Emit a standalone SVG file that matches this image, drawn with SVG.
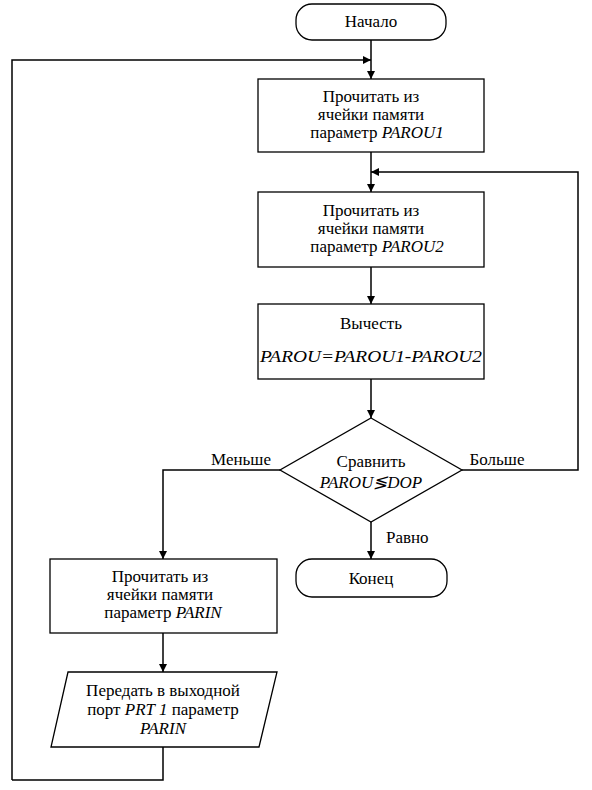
<svg xmlns="http://www.w3.org/2000/svg" width="592" height="790" viewBox="0 0 592 790">
<style>
.s{fill:#fff;stroke:#000;stroke-width:1.3}
.c{fill:none;stroke:#000;stroke-width:1.5}
text{font-family:'Liberation Serif',Tinos,'Times New Roman',Times,serif;font-size:17px;fill:#000;text-anchor:middle}
.i{font-style:italic}
</style>
<defs>
<marker id="a" viewBox="0 0 10 10" refX="10" refY="5" markerWidth="8" markerHeight="8" markerUnits="userSpaceOnUse" orient="auto">
<path d="M0,0 L10,5 L0,10 Z" fill="#000"/>
</marker>
</defs>
<g id="connectors">
<path class="c" d="M371,40 V79" marker-end="url(#a)"/>
<path class="c" d="M12,780 H163 V747 M12,780 V60 H371" marker-end="url(#a)"/>
<path class="c" d="M371,152 V192" marker-end="url(#a)"/>
<path class="c" d="M462,470 H578 V172 H371" marker-end="url(#a)"/>
<path class="c" d="M371,267 V304" marker-end="url(#a)"/>
<path class="c" d="M371,379 V418" marker-end="url(#a)"/>
<path class="c" d="M280,470 H163 V559" marker-end="url(#a)"/>
<path class="c" d="M371,522 V559" marker-end="url(#a)"/>
<path class="c" d="M163,633 V672" marker-end="url(#a)"/>
<text x="241" y="465">Меньше</text>
<text x="497" y="465">Больше</text>
<text x="386" y="543" style="text-anchor:start">Равно</text>
</g>
<g id="start">
<rect class="s" x="296" y="4" width="150" height="36" rx="16"/>
<text x="371" y="27">Начало</text>
</g>
<g id="read1">
<rect class="s" x="258" y="79" width="226" height="73"/>
<text x="371" y="102">Прочитать из</text>
<text x="371" y="120">ячейки памяти</text>
<text x="377" y="138">параметр  <tspan class="i">PAROU1</tspan></text>
</g>
<g id="read2">
<rect class="s" x="258" y="192" width="226" height="75"/>
<text x="371" y="216">Прочитать из</text>
<text x="371" y="234">ячейки памяти</text>
<text x="377" y="252">параметр  <tspan class="i">PAROU2</tspan></text>
</g>
<g id="subtract">
<rect class="s" x="258" y="304" width="226" height="75"/>
<text x="371" y="329">Вычесть</text>
<text x="371" y="362" class="i" textLength="222" lengthAdjust="spacingAndGlyphs">PAROU=PAROU1-PAROU2</text>
</g>
<g id="compare">
<polygon class="s" points="371,418 462,470 371,522 280,470"/>
<text x="371" y="467">Сравнить</text>
<text x="371" y="488" class="i">PAROU≶DOP</text>
</g>
<g id="end">
<rect class="s" x="296" y="559" width="151" height="38" rx="16"/>
<text x="371" y="584">Конец</text>
</g>
<g id="read3">
<rect class="s" x="50" y="559" width="227" height="74"/>
<text x="160" y="582">Прочитать из</text>
<text x="160" y="600">ячейки памяти</text>
<text x="163" y="618">параметр <tspan class="i">PARIN</tspan></text>
</g>
<g id="output">
<polygon class="s" points="68,672 277,672 259,747 51,747"/>
<text x="163" y="696">Передать в выходной</text>
<text x="163" y="715">порт <tspan class="i">PRT 1</tspan> параметр</text>
<text x="163" y="734" class="i">PARIN</text>
</g>
</svg>
